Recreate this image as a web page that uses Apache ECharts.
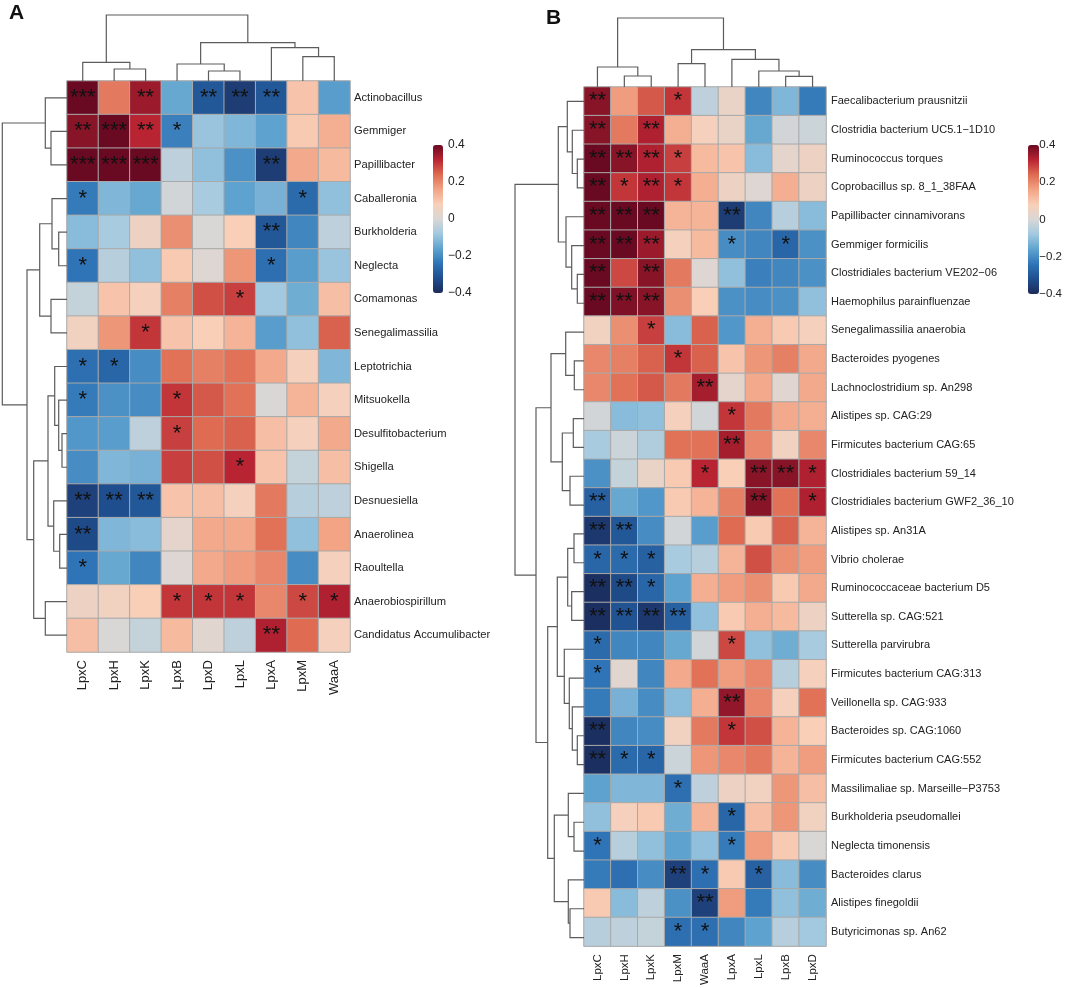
<!DOCTYPE html>
<html>
<head>
<meta charset="utf-8">
<script src="https://cdn.jsdelivr.net/npm/echarts@6/dist/echarts.min.js"></script>
<style>
  html, body { margin: 0; padding: 0; background: #fff; }
  #chart { width: 1065px; height: 988px; }
</style>
</head>
<body>
<div id="chart"></div>
<script>
// ---- panel A data ----
const colsA = ['LpxC', 'LpxH', 'LpxK', 'LpxB', 'LpxD', 'LpxL', 'LpxA', 'LpxM', 'WaaA'];
const rowsA = ['Actinobacillus', 'Gemmiger', 'Papillibacter', 'Caballeronia', 'Burkholderia', 'Neglecta',
  'Comamonas', 'Senegalimassilia', 'Leptotrichia', 'Mitsuokella', 'Desulfitobacterium', 'Shigella',
  'Desnuesiella', 'Anaerolinea', 'Raoultella', 'Anaerobiospirillum', 'Candidatus Accumulibacter'];
const valsA = [
  [0.40, 0.22, 0.35, -0.15, -0.30, -0.36, -0.30, 0.10, -0.17],
  [0.37, 0.40, 0.32, -0.22, -0.09, -0.12, -0.16, 0.09, 0.14],
  [0.40, 0.40, 0.40, -0.04, -0.10, -0.19, -0.36, 0.15, 0.12],
  [-0.23, -0.12, -0.15, -0.01, -0.07, -0.16, -0.13, -0.26, -0.10],
  [-0.11, -0.07, 0.05, 0.19, 0.00, 0.08, -0.30, -0.21, -0.04],
  [-0.24, -0.05, -0.10, 0.09, 0.01, 0.18, -0.25, -0.17, -0.09],
  [-0.03, 0.10, 0.07, 0.21, 0.27, 0.29, -0.08, -0.14, 0.11],
  [0.06, 0.18, 0.30, 0.10, 0.08, 0.13, -0.17, -0.10, 0.25],
  [-0.25, -0.27, -0.20, 0.23, 0.21, 0.23, 0.15, 0.07, -0.12],
  [-0.23, -0.19, -0.20, 0.30, 0.26, 0.23, 0.00, 0.13, 0.07],
  [-0.18, -0.17, -0.04, 0.29, 0.24, 0.25, 0.11, 0.07, 0.15],
  [-0.20, -0.12, -0.13, 0.29, 0.27, 0.32, 0.10, -0.03, 0.11],
  [-0.35, -0.32, -0.30, 0.10, 0.11, 0.07, 0.22, -0.05, -0.04],
  [-0.33, -0.12, -0.11, 0.03, 0.15, 0.15, 0.23, -0.10, 0.16],
  [-0.24, -0.15, -0.21, 0.01, 0.15, 0.17, 0.20, -0.20, 0.07],
  [0.05, 0.06, 0.08, 0.30, 0.30, 0.30, 0.20, 0.28, 0.33],
  [0.11, 0.00, -0.03, 0.12, 0.02, -0.04, 0.33, 0.24, 0.07]
];
const starsA = [
  ['***', '', '**', '', '**', '**', '**', '', ''],
  ['**', '***', '**', '*', '', '', '', '', ''],
  ['***', '***', '***', '', '', '', '**', '', ''],
  ['*', '', '', '', '', '', '', '*', ''],
  ['', '', '', '', '', '', '**', '', ''],
  ['*', '', '', '', '', '', '*', '', ''],
  ['', '', '', '', '', '*', '', '', ''],
  ['', '', '*', '', '', '', '', '', ''],
  ['*', '*', '', '', '', '', '', '', ''],
  ['*', '', '', '*', '', '', '', '', ''],
  ['', '', '', '*', '', '', '', '', ''],
  ['', '', '', '', '', '*', '', '', ''],
  ['**', '**', '**', '', '', '', '', '', ''],
  ['**', '', '', '', '', '', '', '', ''],
  ['*', '', '', '', '', '', '', '', ''],
  ['', '', '', '*', '*', '*', '', '*', '*'],
  ['', '', '', '', '', '', '**', '', '']
];
// hclust style merges: negative = leaf (1-based), positive = earlier merge
const rowMergeA = [[-2, -3], [-1, 1], [-5, -6], [-4, 3], [-7, -8], [4, 5], [-11, -12], [-10, 7],
  [-9, 8], [-14, -15], [-13, 10], [9, 11], [-16, -17], [12, 13], [6, 14], [2, 15]];
const rowHeightA = [16, 21.7, 8.3, 15, 16, 27.3, 5, 8.3, 12.3, 7.3, 13.3, 19, 21.7, 33.3, 40, 64.7];
const colMergeA = [[-2, -3], [-1, 1], [-5, -6], [-4, 3], [-8, -9], [-7, 5], [4, 6], [2, 7]];
const colHeightA = [12, 18.7, 10, 17, 24.3, 33.3, 38.3, 66];

// ---- panel B data ----
const colsB = ['LpxC', 'LpxH', 'LpxK', 'LpxM', 'WaaA', 'LpxA', 'LpxL', 'LpxB', 'LpxD'];
const rowsB = ['Faecalibacterium prausnitzii', 'Clostridia bacterium UC5.1\u22121D10', 'Ruminococcus torques',
  'Coprobacillus sp. 8_1_38FAA', 'Papillibacter cinnamivorans', 'Gemmiger formicilis',
  'Clostridiales bacterium VE202\u221206', 'Haemophilus parainfluenzae', 'Senegalimassilia anaerobia',
  'Bacteroides pyogenes', 'Lachnoclostridium sp. An298', 'Alistipes sp. CAG:29', 'Firmicutes bacterium CAG:65',
  'Clostridiales bacterium 59_14', 'Clostridiales bacterium GWF2_36_10', 'Alistipes sp. An31A',
  'Vibrio cholerae', 'Ruminococcaceae bacterium D5', 'Sutterella sp. CAG:521', 'Sutterella parvirubra',
  'Firmicutes bacterium CAG:313', 'Veillonella sp. CAG:933', 'Bacteroides sp. CAG:1060',
  'Firmicutes bacterium CAG:552', 'Massilimaliae sp. Marseille\u2212P3753', 'Burkholderia pseudomallei',
  'Neglecta timonensis', 'Bacteroides clarus', 'Alistipes finegoldii', 'Butyricimonas sp. An62'];
const valsB = [
  [0.37, 0.17, 0.26, 0.30, -0.04, 0.04, -0.21, -0.12, -0.23],
  [0.37, 0.22, 0.33, 0.14, 0.07, 0.04, -0.15, -0.01, -0.02],
  [0.40, 0.37, 0.33, 0.29, 0.12, 0.10, -0.11, 0.03, 0.05],
  [0.40, 0.30, 0.33, 0.30, 0.14, 0.05, 0.01, 0.14, 0.05],
  [0.40, 0.40, 0.40, 0.13, 0.13, -0.36, -0.21, -0.05, -0.11],
  [0.40, 0.40, 0.35, 0.07, 0.12, -0.20, -0.21, -0.27, -0.19],
  [0.40, 0.28, 0.37, 0.22, 0.01, -0.10, -0.22, -0.21, -0.19],
  [0.40, 0.38, 0.37, 0.19, 0.08, -0.19, -0.20, -0.19, -0.10],
  [0.06, 0.19, 0.29, -0.11, 0.25, -0.18, 0.14, 0.09, 0.07],
  [0.20, 0.21, 0.25, 0.30, 0.25, 0.10, 0.18, 0.21, 0.15],
  [0.20, 0.23, 0.26, 0.22, 0.34, 0.03, 0.15, 0.02, 0.15],
  [-0.01, -0.11, -0.10, 0.07, -0.01, 0.30, 0.22, 0.15, 0.14],
  [-0.07, -0.02, -0.06, 0.23, 0.23, 0.34, 0.20, 0.06, 0.20],
  [-0.19, -0.03, 0.04, 0.09, 0.32, 0.08, 0.37, 0.37, 0.33],
  [-0.28, -0.15, -0.18, 0.09, 0.13, 0.21, 0.37, 0.23, 0.33],
  [-0.37, -0.30, -0.20, -0.01, -0.17, 0.24, 0.09, 0.25, 0.13],
  [-0.27, -0.26, -0.28, -0.07, -0.05, 0.13, 0.27, 0.19, 0.17],
  [-0.39, -0.33, -0.27, -0.16, 0.14, 0.17, 0.19, 0.09, 0.15],
  [-0.39, -0.31, -0.37, -0.28, -0.10, 0.09, 0.14, 0.12, 0.05],
  [-0.26, -0.21, -0.21, -0.15, -0.01, 0.28, -0.10, -0.14, -0.07],
  [-0.24, 0.02, -0.21, 0.15, 0.23, 0.17, 0.20, -0.05, 0.07],
  [-0.23, -0.13, -0.20, -0.11, 0.14, 0.36, 0.20, 0.07, 0.23],
  [-0.39, -0.21, -0.20, 0.06, 0.22, 0.30, 0.27, 0.13, 0.08],
  [-0.39, -0.26, -0.27, -0.02, 0.18, 0.20, 0.22, 0.13, 0.17],
  [-0.16, -0.12, -0.12, -0.25, -0.04, 0.05, 0.06, 0.18, 0.11],
  [-0.10, 0.07, 0.09, -0.14, 0.13, -0.27, 0.11, 0.18, 0.06],
  [-0.24, -0.05, -0.10, -0.16, -0.10, -0.23, 0.17, 0.09, 0.00],
  [-0.23, -0.25, -0.20, -0.35, -0.25, 0.09, -0.28, -0.11, -0.20],
  [0.09, -0.11, -0.04, -0.19, -0.35, 0.17, -0.23, -0.10, -0.14],
  [-0.05, -0.04, -0.03, -0.25, -0.25, -0.21, -0.16, -0.05, -0.08]
];
const starsB = [
  ['**', '', '', '*', '', '', '', '', ''],
  ['**', '', '**', '', '', '', '', '', ''],
  ['**', '**', '**', '*', '', '', '', '', ''],
  ['**', '*', '**', '*', '', '', '', '', ''],
  ['**', '**', '**', '', '', '**', '', '', ''],
  ['**', '**', '**', '', '', '*', '', '*', ''],
  ['**', '', '**', '', '', '', '', '', ''],
  ['**', '**', '**', '', '', '', '', '', ''],
  ['', '', '*', '', '', '', '', '', ''],
  ['', '', '', '*', '', '', '', '', ''],
  ['', '', '', '', '**', '', '', '', ''],
  ['', '', '', '', '', '*', '', '', ''],
  ['', '', '', '', '', '**', '', '', ''],
  ['', '', '', '', '*', '', '**', '**', '*'],
  ['**', '', '', '', '', '', '**', '', '*'],
  ['**', '**', '', '', '', '', '', '', ''],
  ['*', '*', '*', '', '', '', '', '', ''],
  ['**', '**', '*', '', '', '', '', '', ''],
  ['**', '**', '**', '**', '', '', '', '', ''],
  ['*', '', '', '', '', '*', '', '', ''],
  ['*', '', '', '', '', '', '', '', ''],
  ['', '', '', '', '', '**', '', '', ''],
  ['**', '', '', '', '', '*', '', '', ''],
  ['**', '*', '*', '', '', '', '', '', ''],
  ['', '', '', '*', '', '', '', '', ''],
  ['', '', '', '', '', '*', '', '', ''],
  ['*', '', '', '', '', '*', '', '', ''],
  ['', '', '', '**', '*', '', '*', '', ''],
  ['', '', '', '', '**', '', '', '', ''],
  ['', '', '', '*', '*', '', '', '', '']
];
const rowMergeB = [[-3, -4], [-2, 1], [-1, 2], [-7, -8], [-6, 4], [-5, 5], [3, 6],
  [-10, -11], [-9, 8], [-12, -13], [-14, -15], [10, 11], [9, 12],
  [-16, -17], [-18, -19], [14, 15], [-23, -24], [-22, 17], [-21, 18], [-20, 19], [16, 20],
  [-26, -27], [-25, 22], [-29, -30], [-28, 24], [23, 25], [21, 26], [13, 27], [7, 28]];
const rowHeightB = [6.7, 11.7, 16.7, 6.7, 12.3, 18, 25.7,
  9.7, 18.3, 10.7, 14, 21.7, 33,
  10, 12.3, 16.3, 6.7, 11.7, 14.7, 19.7, 26.7,
  10, 15.7, 14, 15.7, 29.7, 36.3, 48, 69];
const colMergeB = [[-2, -3], [-1, 1], [-4, -5], [-8, -9], [-7, 4], [-6, 5], [3, 6], [2, 7]];
const colHeightB = [11, 20, 23.3, 10.7, 16, 27.7, 37.3, 69];

const colorTicks = [-0.4, -0.2, 0, 0.2, 0.4];

// ---- helpers ----
const FONT = '"Liberation Sans", Arial, sans-serif';
const palette = ['#1c2b5a', '#1f4e8e', '#2f74b6', '#5ea3cf', '#a2c9e0', '#d9d7d6',
  '#f9cfb8', '#f2a485', '#de6b52', '#b92432', '#6a0a22'];

function cells(vals) {
  const out = [];
  vals.forEach((row, r) => row.forEach((v, c) => out.push([c, r, v])));
  return out;
}

// turn a merge table into U-shaped links [leftPos, leftH, rightPos, rightH, h]
function dendroLinks(merge, heights) {
  const pos = [], links = [];
  const at = (k) => k < 0 ? [-k - 1, 0] : [pos[k - 1], heights[k - 1]];
  merge.forEach((m, i) => {
    const a = at(m[0]), b = at(m[1]);
    pos[i] = (a[0] + b[0]) / 2;
    links.push([a[0], a[1], b[0], b[1], heights[i]]);
  });
  return links;
}

function dendroSeries(links, axis, sideways) {
  return {
    type: 'custom', xAxisIndex: axis, yAxisIndex: axis, silent: true, data: links,
    renderItem: function (params, api) {
      const pt = (p, h) => sideways ? api.coord([h, p]) : api.coord([p, h]);
      const lp = api.value(0), lh = api.value(1), rp = api.value(2), rh = api.value(3), h = api.value(4);
      return {
        type: 'polyline',
        shape: { points: [pt(lp, lh), pt(lp, h), pt(rp, h), pt(rp, rh)] },
        style: { stroke: '#5c5c5c', lineWidth: 1.2, fill: null }
      };
    }
  };
}

function heatSeries(vals, stars, axis, starSize) {
  return {
    type: 'heatmap', xAxisIndex: axis, yAxisIndex: axis, data: cells(vals),
    itemStyle: { borderColor: '#a9a9a9', borderWidth: 1 },
    emphasis: { disabled: true },
    label: {
      show: true, color: '#111', fontSize: starSize, fontFamily: FONT,
      formatter: (p) => stars[p.data[1]][p.data[0]]
    }
  };
}

const hidden = { show: false };
function valAxis(min, max, inverse) {
  return { type: 'value', min: min, max: max, inverse: !!inverse, show: false };
}
function barAxis(size) {
  return {
    type: 'value', min: -0.4, max: 0.4, interval: 0.2, position: 'right',
    axisLine: hidden, axisTick: hidden, splitLine: hidden,
    axisLabel: {
      margin: 5, fontSize: size, color: '#222', fontFamily: FONT,
      formatter: (v) => Math.abs(v) < 1e-9 ? '0' : String(+v.toFixed(1)).replace('-', '\u2212'),
      customValues: colorTicks
    }
  };
}

const gridA = { left: 67, top: 81, width: 283, height: 571 };
const gridB = { left: 584, top: 87, width: 242, height: 865 };

const option = {
  animation: false,
  textStyle: { fontFamily: FONT },
  graphic: [
    { type: 'text', left: 9, top: 3, style: { text: 'A', font: 'bold 21px ' + FONT, fill: '#111' } },
    { type: 'text', left: 546, top: 8, style: { text: 'B', font: 'bold 21px ' + FONT, fill: '#111' } }
  ],
  grid: [
    gridA,
    { left: gridA.left, top: 15, width: gridA.width, height: 66 },
    { left: 2, top: gridA.top, width: 65, height: gridA.height },
    gridB,
    { left: gridB.left, top: 18, width: gridB.width, height: 69 },
    { left: 515, top: gridB.top, width: 69, height: gridB.height },
    { left: 433, top: 145, width: 10, height: 148 },
    { left: 1028, top: 145, width: 11, height: 149 }
  ],
  xAxis: [
    {
      type: 'category', gridIndex: 0, data: colsA, position: 'bottom',
      axisLine: hidden, axisTick: hidden, splitLine: hidden,
      axisLabel: { rotate: 90, interval: 0, margin: 8, fontSize: 13, color: '#222' }
    },
    Object.assign(valAxis(-0.5, colsA.length - 0.5), { gridIndex: 1 }),
    Object.assign(valAxis(0, 65, true), { gridIndex: 2 }),
    {
      type: 'category', gridIndex: 3, data: colsB, position: 'bottom',
      axisLine: hidden, axisTick: hidden, splitLine: hidden,
      axisLabel: { rotate: 90, interval: 0, margin: 8, fontSize: 11.5, color: '#222' }
    },
    Object.assign(valAxis(-0.5, colsB.length - 0.5), { gridIndex: 4 }),
    Object.assign(valAxis(0, 69, true), { gridIndex: 5 }),
    Object.assign(valAxis(0, 1), { gridIndex: 6 }),
    Object.assign(valAxis(0, 1), { gridIndex: 7 })
  ],
  yAxis: [
    {
      type: 'category', gridIndex: 0, data: rowsA, inverse: true, position: 'right',
      axisLine: hidden, axisTick: hidden, splitLine: hidden,
      axisLabel: { interval: 0, margin: 4, fontSize: 11.2, color: '#222' }
    },
    Object.assign(valAxis(0, 66), { gridIndex: 1 }),
    Object.assign(valAxis(-0.5, rowsA.length - 0.5, true), { gridIndex: 2 }),
    {
      type: 'category', gridIndex: 3, data: rowsB, inverse: true, position: 'right',
      axisLine: hidden, axisTick: hidden, splitLine: hidden,
      axisLabel: { interval: 0, margin: 5, fontSize: 11, color: '#222' }
    },
    Object.assign(valAxis(0, 69), { gridIndex: 4 }),
    Object.assign(valAxis(-0.5, rowsB.length - 0.5, true), { gridIndex: 5 }),
    Object.assign(barAxis(12), { gridIndex: 6 }),
    Object.assign(barAxis(11.5), { gridIndex: 7 })
  ],
  visualMap: [
    {
      type: 'continuous', seriesIndex: 0, min: -0.4, max: 0.4, calculable: false,
      left: 433, top: 145, itemWidth: 10, itemHeight: 148, padding: 0,
      inRange: { color: palette }, text: null, hoverLink: false
    },
    {
      type: 'continuous', seriesIndex: 3, min: -0.4, max: 0.4, calculable: false,
      left: 1028, top: 145, itemWidth: 11, itemHeight: 149, padding: 0,
      inRange: { color: palette }, text: null, hoverLink: false
    }
  ],
  series: [
    heatSeries(valsA, starsA, 0, 22),
    dendroSeries(dendroLinks(colMergeA, colHeightA), 1, false),
    dendroSeries(dendroLinks(rowMergeA, rowHeightA), 2, true),
    heatSeries(valsB, starsB, 3, 22),
    dendroSeries(dendroLinks(colMergeB, colHeightB), 4, false),
    dendroSeries(dendroLinks(rowMergeB, rowHeightB), 5, true)
  ]
};

const myChart = echarts.init(document.getElementById('chart'), null, { renderer: 'canvas' });
myChart.setOption(option);
window.addEventListener('resize', myChart.resize);
</script>
</body>
</html>
